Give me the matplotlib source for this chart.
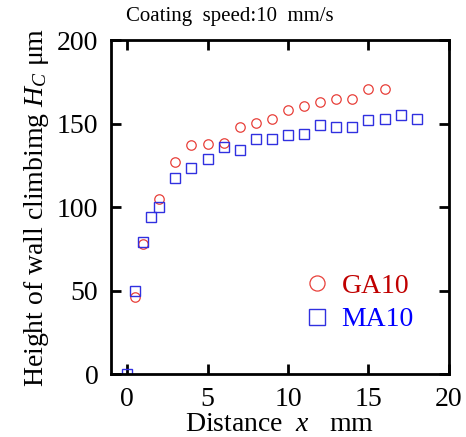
import matplotlib
matplotlib.use("Agg")
import matplotlib.pyplot as plt

plt.rcParams['font.family'] = 'Liberation Serif'
plt.rcParams['mathtext.fontset'] = 'custom'
plt.rcParams['mathtext.rm'] = 'Liberation Serif'
plt.rcParams['mathtext.it'] = 'Liberation Serif:italic'

# data
ga_x = [0.5, 1, 2, 3, 4, 5, 6, 7, 8, 9, 10, 11, 12, 13, 14, 15, 16]
ga_y = [46, 78, 105, 127, 137, 138, 138.5, 148, 150.5, 153, 158, 160.5, 163, 164.5, 164.5, 170.5, 170.5]

ma_x = [0, 0.5, 1, 1.5, 2, 3, 4, 5, 6, 7, 8, 9, 10, 11, 12, 13, 14, 15, 16, 17, 18]
ma_y = [0, 50, 79, 94, 100, 117.5, 123.5, 129, 136, 134.5, 141, 141, 143, 144, 149, 148, 148, 152, 153, 155, 153]

fig = plt.figure(figsize=(4.66, 4.37), dpi=100)
ax = fig.add_axes([0.238, 0.144, 0.7255, 0.764])

ax.plot(ga_x, ga_y, 'o', ms=6.8, mfc='none', mec='#e8403a', mew=0.9, label='GA10')
ax.plot(ma_x, ma_y, 's', ms=7.2, mfc='none', mec='#3030e0', mew=1.0, label='MA10')

ax.set_xlim(-1, 20)
ax.set_ylim(0, 200)
ax.set_xticks([0, 5, 10, 15, 20])
ax.set_yticks([0, 50, 100, 150, 200])
ax.tick_params(direction='in', length=7, width=2, labelsize=20, top=True, right=True, pad=9)
for s in ax.spines.values():
    s.set_linewidth(2)

ax.set_xlabel('Distance  $x$   mm', fontsize=20, labelpad=0)
ax.set_ylabel('Height of wall climbimg $H_C$ μm', fontsize=20, labelpad=4)
fig.text(0.27, 0.963, 'Coating  speed:10  mm/s', fontsize=15, va='center')

leg = ax.legend(loc='lower right', bbox_to_anchor=(0.97, 0.05), frameon=False,
                fontsize=20, markerscale=1.6, handletextpad=0.3, labelspacing=0.3,
                handlelength=1.2)
leg.get_texts()[0].set_color('#c00000')
leg.get_texts()[1].set_color('#0000ff')

fig.savefig('out.png', dpi=100)
